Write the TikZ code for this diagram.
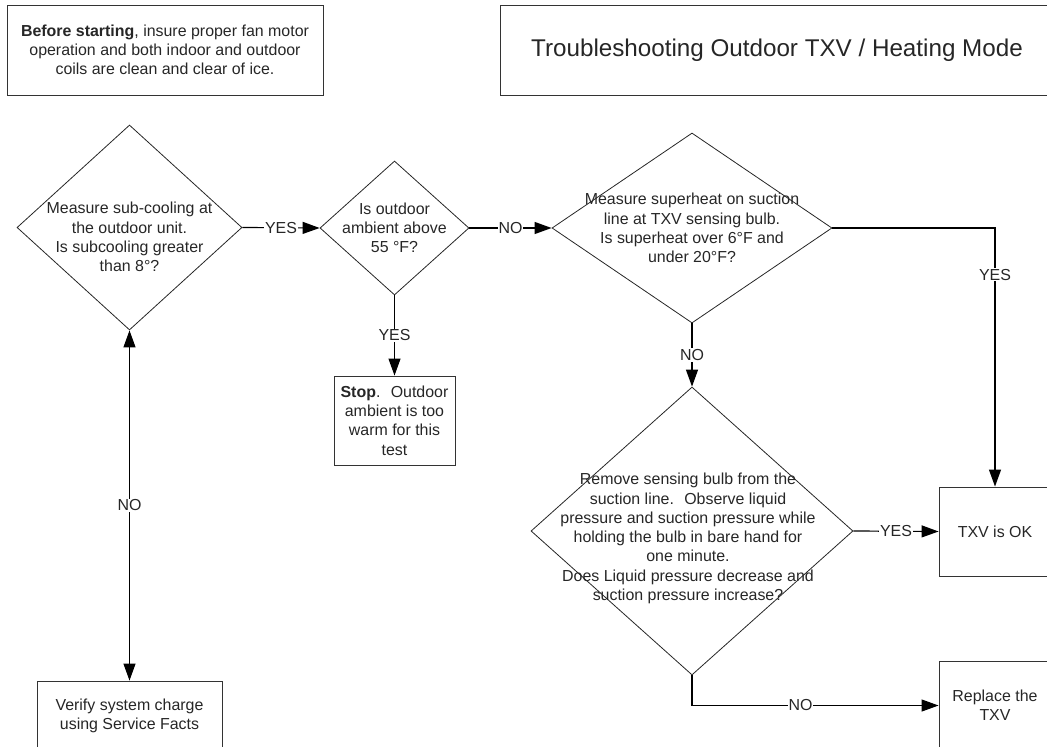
\documentclass[tikz,border=0pt]{standalone}
\usepackage{fontspec}
\setmainfont{Liberation Sans}
\usetikzlibrary{shapes.geometric,arrows.meta}
\begin{document}
\begin{tikzpicture}[x=1bp,y=-1bp,
  font=\fontsize{16}{19.3}\selectfont,
  txt/.style={text=black!85, align=center, inner sep=0},
  boxnode/.style={draw=black!80, line width=0.9bp, inner sep=0, text=black!85, align=center},
  dia/.style={diamond, draw=black!85, line width=0.8bp, inner sep=0},
  conn/.style={draw=black, line width=1.2bp},
  arr/.style={-{Triangle[length=17bp,width=12bp]}},
  lbl/.style={fill=white, text=black!85, inner sep=1bp}
]
\useasboundingbox (0,0) rectangle (1047,747);

% boxes
\node[boxnode, minimum width=316bp, minimum height=90bp] (before) at (165,50)
  {\textbf{Before starting}, insure proper fan motor\\operation and both indoor and outdoor\\coils are clean and clear of ice.};
\node[boxnode, minimum width=554bp, minimum height=90bp, font=\fontsize{24.3}{28}\selectfont] (title) at (777,50)
  {Troubleshooting Outdoor TXV / Heating Mode};
\node[boxnode, minimum width=121bp, minimum height=89bp] (stop) at (394.5,420.5)
  {\textbf{Stop}.~ Outdoor\\ambient is too\\warm for this\\test};
\node[boxnode, minimum width=185bp, minimum height=69bp] (verify) at (129.5,715.5)
  {Verify system charge\\using Service Facts};
\node[boxnode, minimum width=112bp, minimum height=89bp] (txvok) at (995,531.5)
  {TXV is OK};
\node[boxnode, minimum width=112bp, minimum height=89bp] (replace) at (995,705.5)
  {Replace the\\TXV};

% diamonds
\node[dia, minimum width=225bp, minimum height=205bp] (d1) at (129.5,227.5) {};
\node[dia, minimum width=149bp, minimum height=134bp] (d2) at (394.5,228) {};
\node[dia, minimum width=280bp, minimum height=190bp] (d3) at (692,228) {};
\node[dia, minimum width=322bp, minimum height=288bp] (d4) at (692,531) {};

\node[txt] (t1) at (129.5,237) {Measure sub-cooling at\\the outdoor unit.\\Is subcooling greater\\than 8°?};
\node[txt] (t2) at (394.5,228) {Is outdoor\\ambient above\\55 °F?};
\node[txt] (t3) at (692,228) {Measure superheat on suction\\line at TXV sensing bulb.\\Is superheat over 6°F and\\under 20°F?};
\node[txt] (t4) at (688,538.5) {Remove sensing bulb from the\\suction line.~ Observe liquid\\pressure and suction pressure while\\holding the bulb in bare hand for\\one minute.\\Does Liquid pressure decrease and\\suction pressure increase?};

% connectors
\draw[conn,arr] (d1.east) -- node[lbl]{YES} (d2.west);
\draw[conn,arr] (d2.east) -- node[lbl]{NO} (d3.west);
\draw[conn,arr] (d2.south) -- node[lbl]{YES} (stop.north);
\draw[conn,arr] (d3.south) -- node[lbl]{NO} (d4.north);
\draw[conn,arr] (d3.east) -| node[lbl,pos=0.59]{YES} (txvok.north);
\draw[conn,arr] (d4.east) -- node[lbl]{YES} (txvok.west);
\draw[conn,arr] (d4.south) |- node[lbl,pos=0.72]{NO} (replace.west);
\draw[conn,{Triangle[length=17bp,width=12bp]}-{Triangle[length=17bp,width=12bp]}] (d1.south) -- node[lbl]{NO} (verify.north);
\end{tikzpicture}
\end{document}
